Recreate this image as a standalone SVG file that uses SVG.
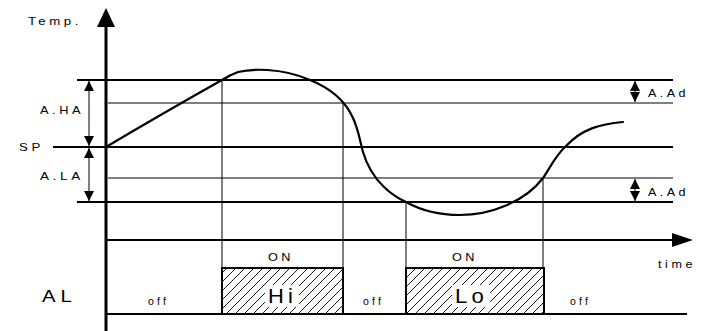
<svg xmlns="http://www.w3.org/2000/svg" width="708" height="331" viewBox="0 0 708 331">
<style>
.thick{stroke:#000;stroke-width:2;fill:none}
.thin{stroke:#000;stroke-width:1;fill:none}
.axis{stroke:#000;stroke-width:3;fill:none}
.vl{stroke:#000;stroke-width:1;fill:none}
.lbl{font-family:"Liberation Sans",Arial,sans-serif;fill:#000}
.curve{stroke:#000;stroke-width:2.2;fill:none;stroke-linecap:round}
</style>
<defs>
<pattern id="hatch" patternUnits="userSpaceOnUse" width="9" height="9">
<path d="M0,9 L9,0 M-1,1 L1,-1 M8,10 L10,8" stroke="#000" stroke-width="0.9"/>
</pattern>
<marker id="ah" viewBox="0 0 10 10" refX="10" refY="5" markerWidth="10" markerHeight="10" markerUnits="userSpaceOnUse" orient="auto-start-reverse">
<path d="M0,0 L10,5 L0,10 Z" fill="#000"/>
</marker>
</defs>
<rect width="708" height="331" fill="#fff"/>

<g id="levels">
<line class="thick" x1="77" y1="80" x2="673" y2="80"/>
<line class="thin" x1="108" y1="103" x2="673" y2="103"/>
<line class="thick" x1="53" y1="147" x2="673" y2="147"/>
<line class="thin" x1="108" y1="178" x2="673" y2="178"/>
<line class="thick" x1="77" y1="202" x2="673" y2="202"/>
</g>

<g id="connectors">
<line class="vl" x1="222" y1="80" x2="222" y2="268"/>
<line class="vl" x1="343" y1="103" x2="343" y2="268"/>
<line class="vl" x1="406" y1="202" x2="406" y2="268"/>
<line class="vl" x1="543" y1="178" x2="543" y2="268"/>
<line class="thin" x1="89" y1="81" x2="89" y2="146" marker-start="url(#ah)" marker-end="url(#ah)"/>
<line class="thin" x1="89" y1="148" x2="89" y2="201" marker-start="url(#ah)" marker-end="url(#ah)"/>
<line class="thin" x1="635" y1="81" x2="635" y2="102" marker-start="url(#ah)" marker-end="url(#ah)"/>
<line class="thin" x1="635" y1="179" x2="635" y2="201" marker-start="url(#ah)" marker-end="url(#ah)"/>
</g>

<g id="axes">
<line class="axis" x1="106" y1="331" x2="106" y2="24"/>
<polygon points="106,8 97,27 115,27" fill="#000"/>
<line class="thick" x1="106" y1="240" x2="676" y2="240"/>
<polygon points="672,233 693,240 672,247" fill="#000"/>
<line class="thick" x1="106" y1="314" x2="687" y2="314"/>
</g>

<g id="curve">
<path class="curve" d="M106,147 Q165,112 222,80 Q230,75 238,72 C250,69 280,67 310,80 C330,88 345,100 353,118 C359,131 360,142 363,152 C372,183 395,197 406,202 C422,211 440,215 460,215 C490,215 525,202 543,178 C550,168 555,156 566,146 C582,129 600,124 623,122"/>
</g>

<g id="node-hi">
<rect x="222" y="268" width="121" height="46" fill="url(#hatch)" stroke="#000" stroke-width="2"/>
<rect x="265" y="285" width="34" height="22" fill="#fff"/>
<text class="lbl" x="268" y="303" font-size="21" letter-spacing="4" textLength="29" lengthAdjust="spacingAndGlyphs">Hi</text>
</g>
<g id="node-lo">
<rect x="406" y="268" width="138" height="46" fill="url(#hatch)" stroke="#000" stroke-width="2"/>
<rect x="452" y="285" width="38" height="22" fill="#fff"/>
<text class="lbl" x="455" y="303" font-size="21" letter-spacing="4" textLength="33" lengthAdjust="spacingAndGlyphs">Lo</text>
</g>

<g id="labels">
<text class="lbl" x="28" y="25" font-size="11" letter-spacing="3" textLength="54" lengthAdjust="spacingAndGlyphs">Temp.</text>
<text class="lbl" x="40" y="114" font-size="11" letter-spacing="3" textLength="44" lengthAdjust="spacingAndGlyphs">A.HA</text>
<text class="lbl" x="19" y="151" font-size="11" letter-spacing="3" textLength="25" lengthAdjust="spacingAndGlyphs">SP</text>
<text class="lbl" x="40" y="180" font-size="11" letter-spacing="3" textLength="44" lengthAdjust="spacingAndGlyphs">A.LA</text>
<text class="lbl" x="648" y="97" font-size="11" letter-spacing="3" textLength="41" lengthAdjust="spacingAndGlyphs">A.Ad</text>
<text class="lbl" x="648" y="196" font-size="11" letter-spacing="3" textLength="41" lengthAdjust="spacingAndGlyphs">A.Ad</text>
<text class="lbl" x="42" y="302" font-size="16" letter-spacing="4" textLength="35" lengthAdjust="spacingAndGlyphs">AL</text>
<text class="lbl" x="268" y="261" font-size="11" letter-spacing="3" textLength="26" lengthAdjust="spacingAndGlyphs">ON</text>
<text class="lbl" x="452" y="261" font-size="11" letter-spacing="3" textLength="26" lengthAdjust="spacingAndGlyphs">ON</text>
<text class="lbl" x="148" y="305" font-size="10" letter-spacing="3" textLength="21" lengthAdjust="spacingAndGlyphs">off</text>
<text class="lbl" x="363" y="305" font-size="10" letter-spacing="3" textLength="21" lengthAdjust="spacingAndGlyphs">off</text>
<text class="lbl" x="570" y="305" font-size="10" letter-spacing="3" textLength="21" lengthAdjust="spacingAndGlyphs">off</text>
<text class="lbl" x="658" y="268" font-size="10.5" letter-spacing="3" textLength="38" lengthAdjust="spacingAndGlyphs">time</text>
</g>
</svg>
